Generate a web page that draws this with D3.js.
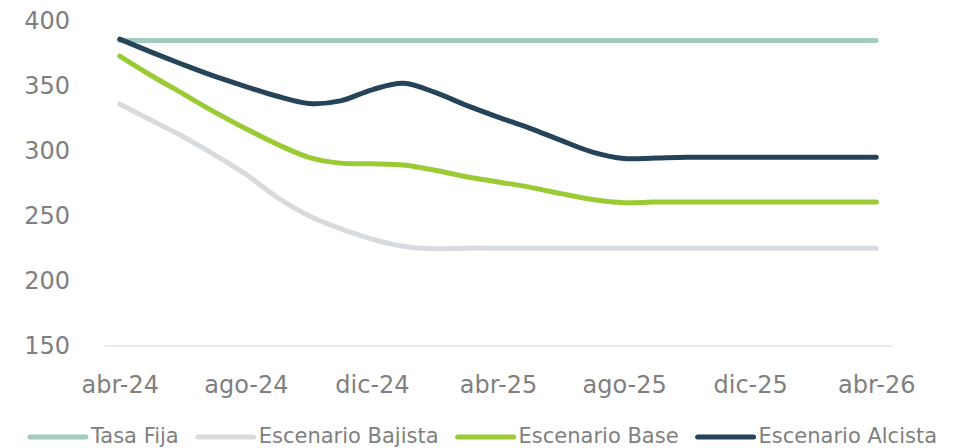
<!DOCTYPE html>
<html>
<head>
<meta charset="utf-8">
<script src="https://cdn.jsdelivr.net/npm/d3@7"></script>
<style>
  html, body { margin: 0; padding: 0; background: #fff; }
  svg { display: block; font-family: "DejaVu Sans", sans-serif; }
</style>
</head>
<body>
<div id="chart"></div>
<script>
const months = [
  'abr-24', 'may-24', 'jun-24', 'jul-24', 'ago-24', 'sep-24', 'oct-24', 'nov-24', 'dic-24',
  'ene-25', 'feb-25', 'mar-25', 'abr-25', 'may-25', 'jun-25', 'jul-25', 'ago-25', 'sep-25',
  'oct-25', 'nov-25', 'dic-25', 'ene-26', 'feb-26', 'mar-26', 'abr-26'
];
const xTickLabels = ['abr-24', 'ago-24', 'dic-24', 'abr-25', 'ago-25', 'dic-25', 'abr-26'];
const yTicks = [150, 200, 250, 300, 350, 400];

const tasaFija = [385, 385, 385, 385, 385, 385, 385, 385, 385, 385, 385, 385, 385,
                  385, 385, 385, 385, 385, 385, 385, 385, 385, 385, 385, 385];
const escBajista = [336, 323.5, 311, 297, 282, 264, 250, 240, 232, 226.5, 224.5, 225, 225,
                    225, 225, 225, 225, 225, 225, 225, 225, 225, 225, 225, 225];
const escBase = [373, 358, 344, 330, 317, 305, 295, 290.5, 290, 289, 285, 280, 276,
                 272, 267, 262.5, 260, 260.5, 260.5, 260.5, 260.5, 260.5, 260.5, 260.5, 260.5];
const escAlcista = [386, 376, 366.5, 357.5, 349.5, 342, 336.5, 338.5, 347, 352, 345, 335, 326,
                    317.5, 308, 299, 294, 294.5, 295, 295, 295, 295, 295, 295, 295];

const seriesNames = ['Tasa Fija', 'Escenario Bajista', 'Escenario Base', 'Escenario Alcista'];
const seriesColors = ['#a3cbbf', '#d8dbde', '#9aca34', '#264459'];
const seriesValues = [tasaFija, escBajista, escBase, escAlcista];

const W = 961, H = 448;
const svg = d3.select('#chart').append('svg')
  .attr('width', W)
  .attr('height', H);

const x = d3.scalePoint()
  .domain(months)
  .range([104, 892])
  .padding(0.5);

const y = d3.scaleLinear()
  .domain([150, 400])
  .range([345.5, 21]);

// eje x
const xAxis = svg.append('g')
  .attr('transform', `translate(0,${y(150)})`)
  .call(d3.axisBottom(x).tickValues(xTickLabels).tickSize(0).tickPadding(30));
xAxis.select('.domain').attr('stroke', '#d9d9d9').attr('stroke-width', 1.2);
xAxis.selectAll('text')
  .attr('fill', '#7f7f7f')
  .attr('font-size', 24)
  .attr('font-family', '"DejaVu Sans", sans-serif');

// eje y
const yAxis = svg.append('g')
  .attr('transform', 'translate(104,0)')
  .call(d3.axisLeft(y).tickValues(yTicks).tickSize(0).tickPadding(34));
yAxis.select('.domain').remove();
yAxis.selectAll('text')
  .attr('fill', '#7f7f7f')
  .attr('font-size', 24)
  .attr('font-family', '"DejaVu Sans", sans-serif');

const line = d3.line()
  .x((d, i) => x(months[i]))
  .y(d => y(d))
  .curve(d3.curveCatmullRom.alpha(0.5));

svg.selectAll('.serie')
  .data(seriesValues)
  .join('path')
  .attr('class', 'serie')
  .attr('fill', 'none')
  .attr('stroke', (d, i) => seriesColors[i])
  .attr('stroke-width', 5)
  .attr('stroke-linecap', 'round')
  .attr('stroke-linejoin', 'round')
  .attr('d', d => line(d));

// leyenda
const legend = svg.append('g');
const swW = 56, swGap = 5, itemGap = 19, legY = 437;
const items = legend.selectAll('.leg')
  .data(seriesNames)
  .join('g')
  .attr('class', 'leg');
items.append('line')
  .attr('x1', 0).attr('x2', swW)
  .attr('y1', legY).attr('y2', legY)
  .attr('stroke', (d, i) => seriesColors[i])
  .attr('stroke-width', 5)
  .attr('stroke-linecap', 'round');
items.append('text')
  .attr('x', swW + swGap)
  .attr('y', 443)
  .attr('fill', '#7f7f7f')
  .attr('font-size', 21)
  .text(d => d);

let widths = [];
items.each(function() {
  widths.push(swW + swGap + d3.select(this).select('text').node().getComputedTextLength());
});
const total = d3.sum(widths) + itemGap * (widths.length - 1);
let cx = (W - total) / 2 + 3;
items.attr('transform', (d, i) => {
  const t = `translate(${cx},0)`;
  cx += widths[i] + itemGap;
  return t;
});
</script>
</body>
</html>
